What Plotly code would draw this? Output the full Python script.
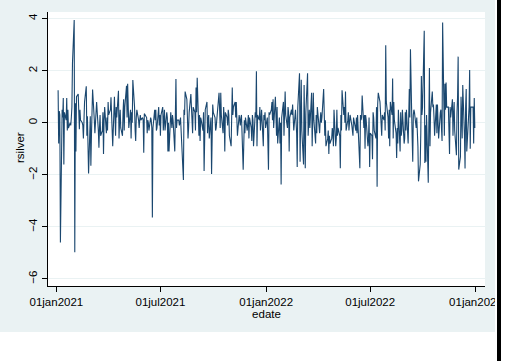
import pandas as pd
import plotly.graph_objects as go

# Daily silver returns (rsilver), one line per month of trading days
rsilver_2021 = [
    1.25, -0.8, 0.45, 0.3, -4.6, 0.5, 0.2, 0.95, -1.6, 0.4, 0.1, 0.95, -0.3, 0.5, -0.2, 0.0, -0.1, 0.2, 0.6, 2.3,  # jan
    3.95, -4.97, 0.75, -1.1, 1.0, 1.1, 0.4, -0.25, 0.5, 0.1, 0.0, -0.1, -0.6, 0.3, 0.8, 1.4, -0.5, 0.25, -0.5, -1.95,  # feb
    0.25, -1.65, -0.5, 0.2, 1.28, 0.1, -0.4, 0.0, 0.5, 0.8, -0.3, -0.96, -0.2, 0.3, -0.5, -0.3, 0.4, -1.2, 0.1, 0.6, -0.4, 0.2, -0.3,  # mar
    0.8, 0.3, 0.5, 0.98, 0.2, -0.4, -0.9, 1.0, 0.3, -0.5, 0.6, 0.2, 1.23, -0.6, 0.1, 0.5, -0.2, -0.5, 0.4, 0.9, -0.3, 0.6,  # apr
    1.42, 0.2, 1.5, 0.3, -0.2, 0.5, -0.6, 0.4, 0.0, 1.64, 0.6, -0.3, -0.7, 0.2, 0.5, 0.1, -0.2, 0.1, 0.3, 0.1, 0.2,  # may
    0.1, -1.15, 0.35, 0.3, 0.2, -0.4, 0.1, 0.0, -0.3, 0.2, 0.1, -0.2, -3.64, -0.2, 0.5, 0.1, 0.5, -0.3, -0.2, 0.6, -0.1, 0.3,  # jun
    -0.5, 0.3, 0.6, -0.3, 0.1, 0.5, -0.3, 0.4, 0.2, -1.1, 0.0, -1.1, 0.4, 0.2, -0.2, 0.3, 0.1, -1.1, 0.5, 1.68, -0.2, 0.1,  # jul
    0.1, -0.1, 0.0, 0.2, -0.3, -1.8, -2.2, 0.5, 0.3, 1.2, 0.9, 0.2, -0.6, -0.2, 0.4, 1.1, 0.5, 0.1, -0.4, 0.6, 0.4, -0.3,  # aug
    1.35, 0.4, 1.73, -0.5, 0.3, -0.7, 0.2, 0.1, -0.3, 0.4, -1.85, 0.2, 0.5, 0.8, -0.4, 0.1, 0.3, -0.6, 0.2, -1.97, -0.3, 0.7,  # sep
    0.4, 0.2, -0.3, -0.2, 0.1, 0.3, 1.15, 0.5, -0.2, 1.15, 0.3, -0.4, 0.6, 0.2, -1.1, 0.4, 0.2, -0.1, 0.5, 0.3, -0.5,  # oct
    -0.9, 0.5, 1.35, 0.3, 0.6, 0.8, 0.2, 0.8, -0.3, -0.5, 0.3, 0.1, -0.1, 0.2, 0.3, -1.8, -0.2, 0.1, -0.4, 0.2, -0.3, 0.1,  # nov
    0.3, -0.6, 0.2, -0.2, -0.7, 0.3, 0.1, -0.9, 0.4, 0.2, 1.98, -0.9, 0.3, 0.1, 0.6, -0.3, 0.2, 0.5, -0.9, 0.3, 0.1, 0.4, -0.2,  # dec
]

rsilver_2022 = [
    0.2, -0.5, -1.8, 0.4, 0.3, 0.5, 0.8, 0.1, 0.9, -0.2, 1.0, 0.3, -0.5, 0.6, -0.8, 0.2, -0.8, 0.0, -2.37, 0.2, 0.8,  # jan
    -0.5, 0.7, 1.2, 0.3, -0.2, 0.6, 0.4, -1.1, 0.2, 0.5, 0.3, 0.7, 0.1, -0.3, 0.5, 0.2, -0.4, -1.7, 0.6, 1.9,  # feb
    -1.5, 0.2, 1.65, -0.3, -1.6, 1.45, 0.3, -1.75, 0.4, 1.9, -0.5, 0.2, 0.5, -0.2, 1.15, -0.9, 0.4, 1.15, 0.1, -0.8, 0.3, -0.4, 0.6,  # mar
    0.3, -0.4, 0.1, 0.4, 0.0, 0.2, 1.3, -0.4, -0.5, 0.1, -0.9, -0.6, -0.3, -1.2, -0.5, -0.8, -0.6, -0.2, -0.4, -0.9, 0.5,  # apr
    -0.9, -0.6, 0.5, -0.5, -0.2, -0.5, -1.75, 0.3, -0.3, 1.25, 0.3, 0.6, 0.0, 1.2, -0.3, 0.1, 0.4, -0.3, 0.2, 0.3, -0.1, -0.4,  # may
    -0.5, 0.2, 0.1, -0.3, 0.2, -0.4, 0.3, -0.2, -1.75, 0.3, 0.1, 0.2, 1.05, -0.2, 0.3, -1.0, 0.3, 0.1, -0.9, -0.6, 0.2, -1.7,  # jun
    -0.4, -0.5, -1.4, 0.4, 0.2, -0.3, -0.6, 0.6, -2.46, 0.7, 1.15, 0.8, 0.2, -0.3, -0.5, 0.3, 0.1, 0.4, -0.3, 2.98, 0.8,  # jul
    0.2, -0.6, 0.5, -0.9, 0.8, 0.3, 1.7, -0.6, 0.8, 0.1, -0.4, -1.35, -0.2, -0.8, 0.5, -1.1, 0.4, -0.5, -0.3, 0.5, -0.8, -0.6, 0.4,  # aug
    -0.3, 0.5, -0.8, 0.4, 1.3, 0.2, 2.82, -0.6, -1.5, 0.3, 0.5, 0.4, -0.2, 0.2, -0.3, -0.9, -2.25, -1.6, -0.4, 1.8, 0.3, 0.6,  # sep
    3.53, -1.55, -0.1, -1.5, 0.3, -2.3, 0.5, 2.1, -0.9, 0.4, 1.2, 0.6, 0.7, 0.2, -0.5, 0.7, -0.4, 0.7, 0.3, -0.6, 0.4,  # oct
    0.5, -0.2, -0.7, 3.85, -0.5, 1.5, 0.5, 1.55, 0.6, 0.6, -1.1, -1.2, 0.6, 0.2, 0.9, -0.5, 0.3, 0.8, -0.3, -1.25, 0.4, 1.0,  # nov
    2.54, -1.8, -1.3, 1.0, 0.3, -0.6, 1.45, -0.5, -1.76, 0.6, 1.3, -1.1, 0.2, 0.6, 2.03, -1.0, 0.6, 0.6, 0.6, -0.8, 0.95, -0.2,  # dec
]

days_2021 = pd.bdate_range("2021-01-04", "2021-12-31")
days_2022 = pd.bdate_range("2022-01-03", "2022-12-30")

x_tick_dates = ["2021-01-01", "2021-07-01", "2022-01-01", "2022-07-01", "2023-01-01"]
x_tick_text = ["01jan2021", "01jul2021", "01jan2022", "01jul2022", "01jan2023"]
y_tick_vals = [-6, -4, -2, 0, 2, 4]

edate = list(days_2021[:len(rsilver_2021)]) + list(days_2022[:len(rsilver_2022)])
rsilver = rsilver_2021[:len(days_2021)] + rsilver_2022[:len(days_2022)]

W, H = 529, 361
L, R, T, B = 48, 44, 12, 75
pw, ph = W - L - R, H - T - B

def px_x(p):
    return (p - L) / pw

def px_y(p):
    return (H - B - p) / ph

NAVY = "#1A476F"
BG = "#EAF2F3"
FONT = "Liberation Sans, Arial, sans-serif"

fig = go.Figure()
fig.add_trace(go.Scatter(
    x=edate, y=rsilver, mode="lines",
    line=dict(color=NAVY, width=1.1),
    hoverinfo="skip", showlegend=False,
))

shapes = [
    # outer graph region
    dict(type="rect", xref="paper", yref="paper", layer="below",
         x0=px_x(0), x1=px_x(495), y0=px_y(332), y1=px_y(0),
         fillcolor=BG, line=dict(width=0)),
    # plot region
    dict(type="rect", xref="paper", yref="paper", layer="below",
         x0=0, x1=1, y0=0, y1=1, fillcolor="white", line=dict(width=0)),
    # right margin strip and frame bar
    dict(type="rect", xref="paper", yref="paper", layer="above",
         x0=px_x(495), x1=px_x(530), y0=px_y(362), y1=px_y(-1),
         fillcolor="white", line=dict(width=0)),
    dict(type="rect", xref="paper", yref="paper", layer="above",
         x0=px_x(497), x1=px_x(501), y0=px_y(362), y1=px_y(-1),
         fillcolor="black", line=dict(width=0)),
]

fig.update_layout(
    width=W, height=H,
    margin=dict(l=L, r=R, t=T, b=B, pad=0),
    paper_bgcolor="white", plot_bgcolor="white",
    font=dict(family=FONT, size=11, color="#000000"),
    shapes=shapes,
    annotations=[dict(
        text="rsilver", textangle=-90, showarrow=False,
        xref="paper", yref="paper", x=px_x(20), y=px_y(148),
        xanchor="center", yanchor="middle",
        font=dict(family=FONT, size=11.5, color="#000000"),
    )],
    xaxis=dict(
        range=["2020-12-17 10:00", "2023-01-16 17:00"],
        tickmode="array", tickvals=x_tick_dates, ticktext=x_tick_text,
        showgrid=False, zeroline=False,
        showline=True, linecolor="#000000", linewidth=1,
        ticks="outside", ticklen=5, tickwidth=1, tickcolor="#000000",
        tickfont=dict(size=11.5),
        title=dict(text="edate", font=dict(size=11.5), standoff=0),
        automargin=False,
    ),
    yaxis=dict(
        range=[-6.27, 4.254],
        tickmode="array", tickvals=y_tick_vals,
        tickangle=-90,
        showgrid=True, gridcolor=BG, gridwidth=1,
        zeroline=False,
        showline=True, linecolor="#000000", linewidth=1,
        ticks="outside", ticklen=5, tickwidth=1, tickcolor="#000000",
        tickfont=dict(size=11.5),
        automargin=False,
    ),
)

fig.write_html("out.html")
